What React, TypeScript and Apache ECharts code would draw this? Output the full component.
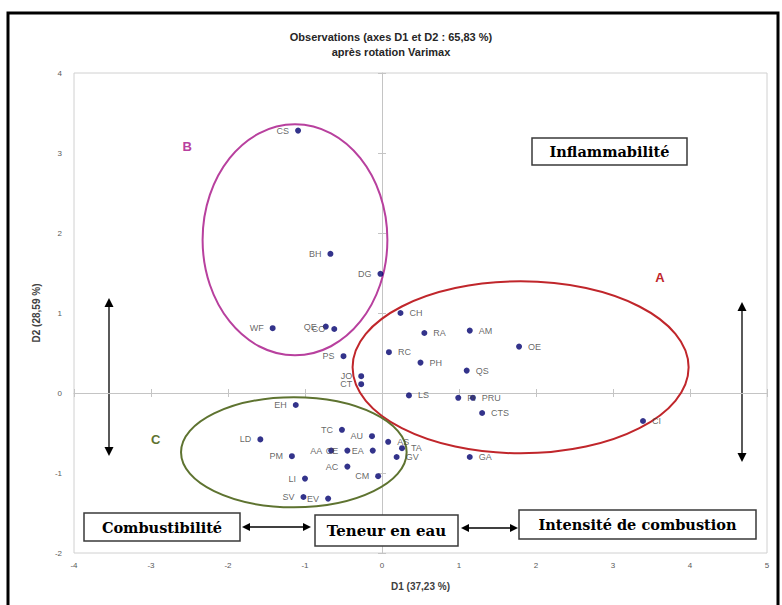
import React, { useEffect, useRef } from "react";
import * as echarts from "echarts";

// Observations (labels) and their coordinates on D1 / D2
const pointNames = [
  "CS", "BH", "DG", "CH", "WF", "QE", "CO", "RA", "AM", "OE", "RC", "PS", "PH", "QS",
  "JO", "CT", "LS", "PI", "PRU", "CTS", "CI", "EH", "TC", "AU", "LD", "AS", "TA", "GV",
  "GA", "PM", "AA", "CE", "EA", "AC", "CM", "LI", "SV", "EV",
];
const d1Values = [
  -1.09, -0.67, -0.02, 0.24, -1.42, -0.73, -0.62, 0.55, 1.14, 1.78, 0.09, -0.5, 0.5, 1.1,
  -0.27, -0.27, 0.35, 0.99, 1.18, 1.3, 3.39, -1.12, -0.52, -0.13, -1.58, 0.08, 0.26, 0.19,
  1.14, -1.17, -0.66, -0.45, -0.12, -0.45, -0.05, -1.0, -1.02, -0.7,
];
const d2Values = [
  3.28, 1.74, 1.49, 1.0, 0.81, 0.83, 0.8, 0.75, 0.78, 0.58, 0.51, 0.46, 0.38, 0.28,
  0.21, 0.11, -0.03, -0.06, -0.06, -0.25, -0.35, -0.15, -0.46, -0.54, -0.58, -0.61, -0.69, -0.8,
  -0.8, -0.79, -0.72, -0.72, -0.72, -0.92, -1.04, -1.07, -1.3, -1.32,
];

// Groups (ellipses) in data units
const groupNames = ["A", "B", "C"];
const groupCx = [1.8, -1.13, -1.145];
const groupCy = [0.321, 1.915, -0.741];
const groupRx = [2.182, 1.2, 1.465];
const groupRy = [1.075, 1.444, 0.6875];
const groupColors = ["#C0262B", "#B8409E", "#5E7330"];
// group letter positions (data units)
const groupLabelX = [3.61, -2.53, -2.94];
const groupLabelY = [1.45, 3.08, -0.58];

const xMin = -4, xMax = 5, yMin = -2, yMax = 4;

function arrowH(x1: number, x2: number, y: number) {
  const h = 8, w = 4;
  return [
    { type: "line", shape: { x1: x1 + h - 1, y1: y, x2: x2 - h + 1, y2: y }, style: { stroke: "#000", lineWidth: 1.3 } },
    { type: "polygon", shape: { points: [[x1, y], [x1 + h, y - w], [x1 + h, y + w]] }, style: { fill: "#000" } },
    { type: "polygon", shape: { points: [[x2, y], [x2 - h, y - w], [x2 - h, y + w]] }, style: { fill: "#000" } },
  ];
}
function arrowV(x: number, y1: number, y2: number) {
  const h = 9, w = 4.5;
  return [
    { type: "line", shape: { x1: x, y1: y1 + h - 1, x2: x, y2: y2 - h + 1 }, style: { stroke: "#000", lineWidth: 1.3 } },
    { type: "polygon", shape: { points: [[x, y1], [x - w, y1 + h], [x + w, y1 + h]] }, style: { fill: "#000" } },
    { type: "polygon", shape: { points: [[x, y2], [x - w, y2 - h], [x + w, y2 - h]] }, style: { fill: "#000" } },
  ];
}
function box(x: number, y: number, w: number, h: number, text: string, fs: number) {
  return [
    { type: "rect", shape: { x, y, width: w, height: h }, style: { fill: "#fff", stroke: "#3a3a3a", lineWidth: 1.5 }, z: 10 },
    {
      type: "text", x: x + w / 2, y: y + h / 2, z: 11,
      style: { text, fill: "#000", font: `bold ${fs}px "DejaVu Serif", serif`, align: "center", verticalAlign: "middle" },
    },
  ];
}

export default function App() {
  const ref = useRef<HTMLDivElement>(null);
  useEffect(() => {
    if (!ref.current) return;
    const chart = echarts.init(ref.current, null, { renderer: "svg" });
    const data = pointNames.map((n, i) => ({
      value: [d1Values[i], d2Values[i], n],
      label: { position: d1Values[i] < 0 ? "left" : "right" },
    }));
    const tickLabel = { color: "#595959", fontSize: 8, fontFamily: "Liberation Sans" };
    const zeroLine = { color: "#c4c4c4", width: 1 };
    const option: any = {
      animation: false,
      backgroundColor: "#fff",
      title: {
        text: "Observations (axes D1 et D2 : 65,83 %)\naprès rotation Varimax",
        left: "center",
        top: 24,
        textStyle: { fontSize: 11, fontWeight: "bold", color: "#262626", fontFamily: "Liberation Sans", lineHeight: 15 },
      },
      grid: { left: 74, right: 15, top: 73, bottom: 52, show: true, borderColor: "#d0d0d0", borderWidth: 1 },
      xAxis: [
        {
          type: "value", min: xMin, max: xMax, interval: 1, position: "bottom",
          axisLine: { show: false, onZero: false }, axisTick: { show: false }, splitLine: { show: false },
          axisLabel: { ...tickLabel, margin: 8 },
          name: "D1 (37,23 %)", nameLocation: "middle", nameGap: 28,
          nameTextStyle: { fontSize: 10, fontWeight: "bold", color: "#404040", fontFamily: "Liberation Sans" },
        },
        {
          type: "value", min: xMin, max: xMax, interval: 1,
          axisLine: { show: true, onZero: true, lineStyle: zeroLine },
          axisTick: { show: true, inside: false, length: 4, lineStyle: zeroLine },
          axisLabel: { show: false }, splitLine: { show: false },
        },
        {
          type: "value", min: xMin, max: xMax, interval: 1,
          axisLine: { show: false, onZero: true },
          axisTick: { show: true, inside: true, length: 4, lineStyle: zeroLine },
          axisLabel: { show: false }, splitLine: { show: false },
        },
      ],
      yAxis: [
        {
          type: "value", min: yMin, max: yMax, interval: 1, position: "left",
          axisLine: { show: false, onZero: false }, axisTick: { show: false }, splitLine: { show: false },
          axisLabel: { ...tickLabel, margin: 12 },
          name: "D2 (28,59 %)", nameLocation: "middle", nameGap: 33,
          nameTextStyle: { fontSize: 10, fontWeight: "bold", color: "#404040", fontFamily: "Liberation Sans" },
        },
        {
          type: "value", min: yMin, max: yMax, interval: 1,
          axisLine: { show: true, onZero: true, lineStyle: zeroLine },
          axisTick: { show: true, inside: false, length: 4, lineStyle: zeroLine },
          axisLabel: { show: false }, splitLine: { show: false },
        },
        {
          type: "value", min: yMin, max: yMax, interval: 1,
          axisLine: { show: false, onZero: true },
          axisTick: { show: true, inside: true, length: 4, lineStyle: zeroLine },
          axisLabel: { show: false }, splitLine: { show: false },
        },
      ],
      series: [
        {
          type: "scatter",
          xAxisIndex: 0, yAxisIndex: 0,
          symbolSize: 6,
          itemStyle: { color: "#00006E" },
          label: {
            show: true, formatter: (p: any) => p.value[2], distance: 6,
            fontSize: 9, color: "#404040", fontFamily: "Liberation Sans",
          },
          labelLayout: { hideOverlap: false },
          data,
          z: 5,
        },
      ],
    };
    chart.setOption(option);

    const graphics: any[] = [];
    // outer frame
    graphics.push({
      type: "rect", shape: { x: 8, y: 13, width: 770, height: 620 },
      style: { fill: "none", stroke: "#000", lineWidth: 3 }, z: 20,
    });
    groupNames.forEach((g, i) => {
      const c = chart.convertToPixel({ gridIndex: 0 }, [groupCx[i], groupCy[i]]) as number[];
      const ex = chart.convertToPixel({ gridIndex: 0 }, [groupCx[i] + groupRx[i], groupCy[i]]) as number[];
      const ey = chart.convertToPixel({ gridIndex: 0 }, [groupCx[i], groupCy[i] + groupRy[i]]) as number[];
      graphics.push({
        type: "ellipse",
        shape: { cx: c[0], cy: c[1], rx: ex[0] - c[0], ry: c[1] - ey[1] },
        style: { fill: "none", stroke: groupColors[i], lineWidth: 2 },
        z: 3,
      });
      const lp = chart.convertToPixel({ gridIndex: 0 }, [groupLabelX[i], groupLabelY[i]]) as number[];
      graphics.push({
        type: "text", x: lp[0], y: lp[1], z: 4,
        style: {
          text: g, fill: groupColors[i], font: 'bold 13px "Liberation Sans", sans-serif',
          align: "center", verticalAlign: "middle",
        },
      });
    });
    graphics.push(...box(532, 138, 155, 27, "Inflammabilité", 14.5));
    graphics.push(...box(84, 513, 156, 28, "Combustibilité", 14.5));
    graphics.push(...box(315, 515, 143, 31, "Teneur en eau", 15));
    graphics.push(...box(519, 510, 237, 29, "Intensité de combustion", 14.5));
    graphics.push(...arrowH(242, 311, 527));
    graphics.push(...arrowH(461, 518, 528));
    graphics.push(...arrowV(109, 298, 456));
    graphics.push(...arrowV(742, 302, 462));
    chart.setOption({ graphic: graphics });

    return () => chart.dispose();
  }, []);
  return (
    <div
      ref={ref}
      style={{ position: "fixed", left: 0, top: 0, width: 782, height: 605, background: "#fff" }}
    />
  );
}
